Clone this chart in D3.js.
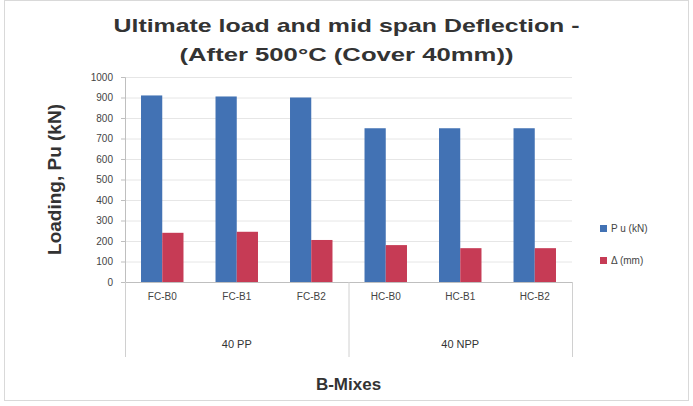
<!DOCTYPE html>
<html lang="en">
<head>
  <meta charset="UTF-8">
  <title>Ultimate load and mid span deflection</title>
  <style>
    body { margin: 0; background: #fff; }
    svg { display: block; font-family: "Liberation Sans", Arial, sans-serif; }
    .tick text { font-size: 10px; fill: #444; }
  </style>
</head>
<body>
  <div class="container"></div>
  <script src="https://d3js.org/d3.v7.min.js"></script>
  <script>
    // data
    const categories = ['FC-B0', 'FC-B1', 'FC-B2', 'HC-B0', 'HC-B1', 'HC-B2']
    const groups = ['40 PP', '40 NPP']
    const loadPu = [910, 905, 900, 750, 750, 750]
    const deflection = [240, 245, 205, 180, 165, 165]
    const yTicks = [0, 100, 200, 300, 400, 500, 600, 700, 800, 900, 1000]
    const seriesNames = ['P u (kN)', 'Δ (mm)']
    const colors = ['#4272b4', '#c63b55']

    const W = 693, H = 406
    const m = { left: 125, right: 121, top: 77, bottom: 124 }
    const w = W - m.left - m.right, h = H - m.top - m.bottom

    const svg = d3.select('.container')
      .append('svg')
      .attr('width', W)
      .attr('height', H)

    // chart border
    svg.append('rect')
      .attr('x', 4.5).attr('y', 0.5)
      .attr('width', W - 9).attr('height', H - 6)
      .attr('fill', 'none')
      .attr('stroke', '#d9d9d9')

    // title
    const title = svg.append('text')
      .attr('text-anchor', 'middle')
      .attr('font-weight', 'bold')
      .attr('font-size', '19px')
      .attr('fill', '#333')
    title.append('tspan').attr('x', W / 2).attr('y', 32)
      .attr('textLength', 466).attr('lengthAdjust', 'spacingAndGlyphs')
      .text('Ultimate load and mid span Deflection -')
    title.append('tspan').attr('x', W / 2).attr('y', 61)
      .attr('textLength', 334).attr('lengthAdjust', 'spacingAndGlyphs')
      .text('(After 500°C (Cover 40mm))')

    const g = svg.append('g')
      .attr('transform', `translate(${m.left}, ${m.top})`)

    const x0 = d3.scaleBand().domain(categories).range([0, w]).paddingInner(0.43).paddingOuter(0.215)
    const x1 = d3.scaleBand().domain(seriesNames).range([0, x0.bandwidth()])
    const y = d3.scaleLinear().domain([0, 1000]).range([h, 0])

    // gridlines
    g.append('g')
      .selectAll('line')
      .data(yTicks)
      .enter()
      .append('line')
      .attr('x1', 0).attr('x2', w)
      .attr('y1', d => y(d) + 0.5).attr('y2', d => y(d) + 0.5)
      .attr('stroke', '#e6e6e6')

    // y axis
    const yAxis = d3.axisLeft(y).tickValues(yTicks).tickFormat(d3.format('d')).tickSize(4).tickPadding(8)
    g.append('g')
      .call(yAxis)
      .call(a => a.select('.domain').attr('stroke', '#bfbfbf'))
      .call(a => a.selectAll('.tick line').attr('stroke', '#bfbfbf'))

    // bars
    const series = [loadPu, deflection]
    series.forEach((vals, s) => {
      g.append('g')
        .selectAll('rect')
        .data(vals)
        .enter()
        .append('rect')
        .attr('x', (d, i) => x0(categories[i]) + x1(seriesNames[s]))
        .attr('y', d => y(d))
        .attr('width', x1.bandwidth())
        .attr('height', d => h - y(d))
        .attr('fill', colors[s])
    })

    // x axis (two levels like excel)
    g.append('line')
      .attr('x1', 0).attr('x2', w)
      .attr('y1', h + 0.5).attr('y2', h + 0.5)
      .attr('stroke', '#bfbfbf')

    g.append('g')
      .selectAll('text')
      .data(categories)
      .enter()
      .append('text')
      .attr('x', d => x0(d) + x0.bandwidth() / 2)
      .attr('y', h + 18)
      .attr('text-anchor', 'middle')
      .attr('font-size', '10px')
      .attr('fill', '#444')
      .text(d => d)

    const step = w / categories.length
    g.append('g')
      .selectAll('line')
      .data([0, 3, 6])
      .enter()
      .append('line')
      .attr('x1', d => d * step + 0.5).attr('x2', d => d * step + 0.5)
      .attr('y1', h).attr('y2', h + 75)
      .attr('stroke', '#d0d0d0')

    g.append('g')
      .selectAll('text')
      .data(groups)
      .enter()
      .append('text')
      .attr('x', (d, i) => (i * 3 + 1.5) * step)
      .attr('y', h + 66)
      .attr('text-anchor', 'middle')
      .attr('font-size', '11px')
      .attr('fill', '#333')
      .text(d => d)

    // axis titles
    svg.append('text')
      .attr('x', m.left + w / 2)
      .attr('y', 390)
      .attr('text-anchor', 'middle')
      .attr('font-weight', 'bold')
      .attr('font-size', '17px')
      .attr('fill', '#333')
      .text('B-Mixes')

    svg.append('text')
      .attr('transform', `translate(61, ${m.top + h / 2}) rotate(-90)`)
      .attr('text-anchor', 'middle')
      .attr('font-weight', 'bold')
      .attr('font-size', '19px')
      .attr('fill', '#333')
      .text('Loading, Pu (kN)')

    // legend
    const legend = svg.append('g')
      .attr('transform', 'translate(600, 225)')
    seriesNames.forEach((name, i) => {
      legend.append('rect')
        .attr('x', 0).attr('y', i * 32)
        .attr('width', 7).attr('height', 7)
        .attr('fill', colors[i])
      legend.append('text')
        .attr('x', 11).attr('y', i * 32 + 7)
        .attr('font-size', '10px')
        .attr('fill', '#444')
        .text(name)
    })
  </script>
</body>
</html>
